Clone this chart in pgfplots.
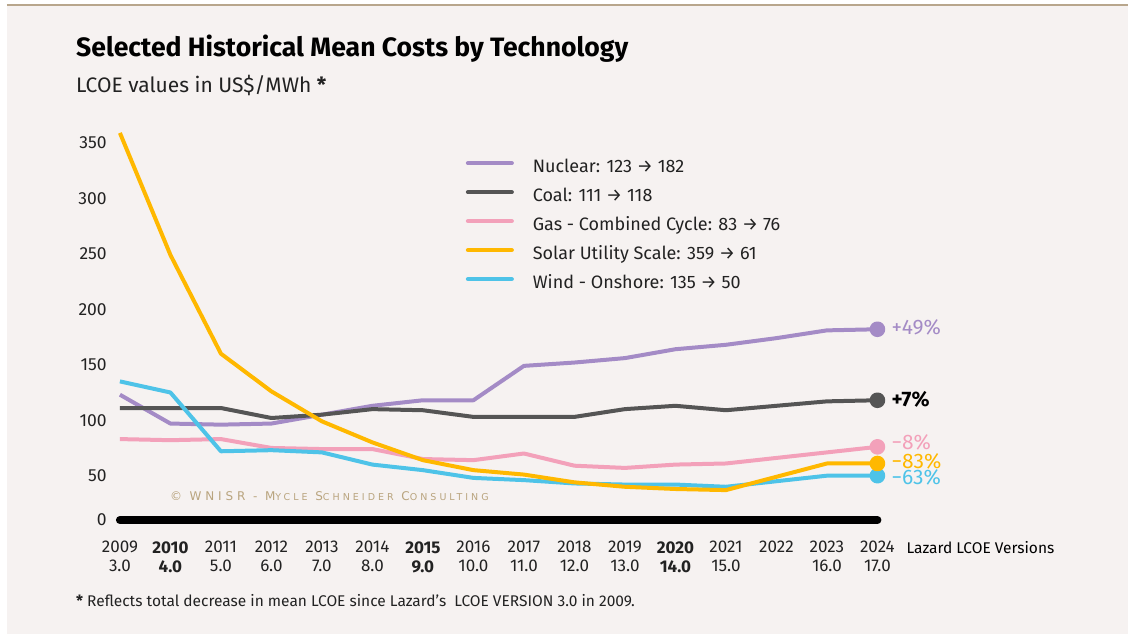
\documentclass[border=0pt]{standalone}
\usepackage{fontspec}
\setmainfont{Fira Sans}
\newfontfamily\cpfont{DejaVu Sans}[LetterSpace=32]
\usepackage{pgfplots}
\pgfplotsset{compat=1.18}
\definecolor{bg}{HTML}{F6F2F1}
\definecolor{topline}{HTML}{B8A68C}
\definecolor{nuc}{HTML}{A48BC6}
\definecolor{coal}{HTML}{555555}
\definecolor{gas}{HTML}{F3A1BA}
\definecolor{solar}{HTML}{FFB800}
\definecolor{wind}{HTML}{4EC3E8}
\definecolor{copyc}{HTML}{B9A47E}
\definecolor{txt}{HTML}{222222}
\begin{document}
\begin{tikzpicture}[x=1pt,y=1pt]
\fill[white] (0,0) rectangle (1129,638);
\fill[bg] (7,4) rectangle (1129,633);
\draw[topline, line width=1.5pt] (7,633) -- (1129,633);
\node[anchor=base west, inner sep=0, font=\fontsize{26.6}{30}\selectfont\bfseries] at (76,581) {Selected Historical Mean Costs by Technology};
\node[anchor=base west, inner sep=0, text=txt, font=\fontsize{21}{25}\selectfont] at (76,545) {LCOE values in US\$/MWh \textbf{*}};
\begin{axis}[
  at={(120pt,106.5pt)}, anchor=south west,
  width=758pt, height=399.6pt, scale only axis,
  xmin=2009, xmax=2024, ymin=0, ymax=360,
  clip=false,
  axis line style={draw=none},
  major tick style={draw=none}, major tick length=0pt,
  /pgf/number format/assume math mode=true,
  ytick={10,50,100,150,200,250,300,350},
  yticklabels={0,50,100,150,200,250,300,350},
  yticklabel style={anchor=east, inner sep=0pt, xshift=-13pt, text=txt, font=\fontsize{17.5}{20}\selectfont},
  xtick={2009,2010,2011,2012,2013,2014,2015,2016,2017,2018,2019,2020,2021,2022,2023,2024},
  xticklabels={{2009\\3.0},{\textbf{2010}\\\textbf{4.0}},{2011\\5.0},{2012\\6.0},{2013\\7.0},{2014\\8.0},{\textbf{2015}\\\textbf{9.0}},{2016\\10.0},{2017\\11.0},{2018\\12.0},{2019\\13.0},{\textbf{2020}\\\textbf{14.0}},{2021\\15.0},{2022},{2023\\16.0},{2024\\17.0}},
  xticklabel style={anchor=north, align=center, inner sep=0pt, yshift=-10pt, text=txt, font=\fontsize{17}{19}\selectfont},
  legend cell align=left,
  legend style={at={(0.4525,0.937)}, anchor=north west, draw=none, fill=none,
    font=\fontsize{18}{21}\selectfont, text=txt,
    nodes={inner sep=0pt, text height=13pt, text depth=4pt},
    row sep=12pt},
  legend image code/.code={\path[draw=none,fill=none] (0pt,0pt) -- (67pt,0pt);\draw[line width=4pt, line cap=round] (2pt,4.5pt) -- (46pt,4.5pt);},
  every axis plot/.append style={line width=4pt, line join=round, mark indices={16}, mark size=5.8pt},
]
\addplot[nuc, mark=*, mark options={draw=none, fill=nuc}] coordinates {
(2009,123) (2010,97) (2011,96) (2012,97) (2013,105) (2014,113) (2015,118) (2016,118)
(2017,149) (2018,152) (2019,156) (2020,164) (2021,168) (2022,174) (2023,181) (2024,182)};
\addlegendentry{Nuclear: 123 → 182}
\addplot[coal, mark=*, mark options={draw=none, fill=coal}] coordinates {
(2009,111) (2010,111) (2011,111) (2012,102) (2013,105) (2014,110) (2015,109) (2016,103)
(2017,103) (2018,103) (2019,110) (2020,113) (2021,109) (2022,113) (2023,117) (2024,118)};
\addlegendentry{Coal: 111 → 118}
\addplot[gas, mark=*, mark options={draw=none, fill=gas}] coordinates {
(2009,83) (2010,82) (2011,83) (2012,75) (2013,74) (2014,74) (2015,65) (2016,64)
(2017,70) (2018,59) (2019,57) (2020,60) (2021,61) (2022,66) (2023,71) (2024,76)};
\addlegendentry{Gas - Combined Cycle: 83 → 76}
\addplot[wind, mark=*, mark options={draw=none, fill=wind}, forget plot] coordinates {
(2009,135) (2010,125) (2011,72) (2012,73) (2013,71) (2014,60) (2015,55) (2016,48)
(2017,46) (2018,43) (2019,42) (2020,42) (2021,40) (2022,45) (2023,50) (2024,50)};
\addplot[solar, mark=*, mark options={draw=none, fill=solar}] coordinates {
(2009,359) (2010,249) (2011,160) (2012,126) (2013,99) (2014,80) (2015,64) (2016,55)
(2017,51) (2018,44) (2019,40) (2020,38) (2021,37) (2022,49) (2023,61) (2024,61)};
\addlegendentry{Solar Utility Scale: 359 → 61}
\addlegendimage{wind}
\addlegendentry{Wind - Onshore: 135 → 50}
\addplot[black, line width=8pt, line cap=round, mark=none, forget plot] coordinates {(2009,10) (2024,10)};
\node[anchor=west, inner sep=0pt, xshift=14pt, text=nuc, font=\fontsize{21}{24}\selectfont] at (axis cs:2024,184) {+49\%};
\node[anchor=west, inner sep=0pt, xshift=14pt, text=black, font=\fontsize{21}{24}\selectfont\bfseries] at (axis cs:2024,119) {+7\%};
\node[anchor=west, inner sep=0pt, xshift=14pt, text=gas, font=\fontsize{21}{24}\selectfont] at (axis cs:2024,80) {−8\%};
\node[anchor=west, inner sep=0pt, xshift=14pt, text=solar, font=\fontsize{21}{24}\selectfont] at (axis cs:2024,62.5) {−83\%};
\node[anchor=west, inner sep=0pt, xshift=14pt, text=wind, font=\fontsize{21}{24}\selectfont] at (axis cs:2024,48.5) {−63\%};
\end{axis}
\node[anchor=west, inner sep=0, text=copyc, font=\cpfont\fontsize{12}{14}\selectfont] at (170,142) {© WNISR - M{\fontsize{9.5}{11}\selectfont YCLE} S{\fontsize{9.5}{11}\selectfont CHNEIDER} C{\fontsize{9.5}{11}\selectfont ONSULTING}};
\node[anchor=west, inner sep=0, text=black, font=\fontsize{15.5}{18}\selectfont] at (907,90) {Lazard LCOE Versions};
\node[anchor=west, inner sep=0, text=txt, font=\fontsize{15.5}{18}\selectfont] at (76,37) {\textbf{*} Reflects total decrease in mean LCOE since Lazard's\ \ LCOE VERSION 3.0 in 2009.};
\end{tikzpicture}
\end{document}
